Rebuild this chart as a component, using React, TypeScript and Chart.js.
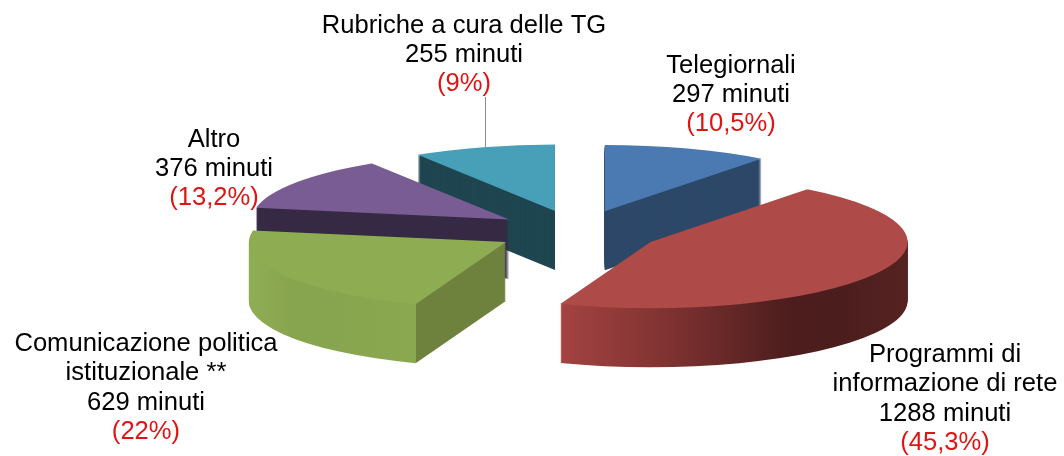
import React, { useEffect, useRef } from "react";
import { Chart, registerables } from "chart.js";

Chart.register(...registerables);

const categories = ["Telegiornali", "Programmi di informazione di rete", "Comunicazione politica istituzionale **", "Altro", "Rubriche a cura delle TG"];
const categoryLines = [["Telegiornali"], ["Programmi di", "informazione di rete"], ["Comunicazione politica", "istituzionale **"], ["Altro"], ["Rubriche a cura delle TG"]];
const minutes = [297, 1288, 629, 376, 255];
const percentLabels = ["(10,5%)", "(45,3%)", "(22%)", "(13,2%)", "(9%)"];
const topColors = ["#4a7ab1", "#ae4a47", "#8eac52", "#795c93", "#489fb8"];
const cutColors = ["#2d4868", "#a34341", "#6e823e", "#362a44", "#1f4650"];
const drawOrder = [0, 4, 3, 2, 1];
const labelCenterX = [731, 945, 146, 214, 464];
const labelFirstBaseline = [72.5, 362, 351, 146.5, 32.5];

const CX = 578, CY = 231.5, TILT = 0.258, DEPTH = 59, EXPLODE = 83, RADIUS = 257, LINE = 29.4;

const pie3d = {
  id: "pie3d",
  beforeDatasetsDraw(chart: any) {
    const ctx = chart.ctx;
    const arcs = chart.getDatasetMeta(0).data;
    const ox = (chart.chartArea.left + chart.chartArea.right) / 2;
    const oy = (chart.chartArea.top + chart.chartArea.bottom) / 2;
    for (const i of drawOrder) {
      const arc = arcs[i];
      const mid = (arc.startAngle + arc.endAngle) / 2;
      const ex = Math.cos(mid) * EXPLODE;
      const ey = Math.sin(mid) * EXPLODE;
      const toUser = (sx: number) => sx - CX + ox - ex;
      let side: any = cutColors[i];
      if (i === 1) {
        const g = ctx.createLinearGradient(toUser(560), 0, toUser(907), 0);
        g.addColorStop(0, "#a34341");
        g.addColorStop(0.3, "#803332");
        g.addColorStop(0.66, "#4d1d1d");
        g.addColorStop(0.8, "#4c1d1d");
        g.addColorStop(1, "#562222");
        side = g;
      } else if (i === 2) {
        const g = ctx.createLinearGradient(toUser(249), 0, toUser(506), 0);
        const cut = (416 - 249) / (506 - 249);
        g.addColorStop(0, "#8fad53");
        g.addColorStop(0.2, "#87a44e");
        g.addColorStop(cut - 0.001, "#8aa850");
        g.addColorStop(cut, "#6e823e");
        g.addColorStop(1, "#6e823e");
        side = g;
      }
      const original = arc.options;
      const paint = (fill: any, drop: number) => {
        const o = Object.create(original);
        o.backgroundColor = fill;
        arc.options = o;
        ctx.save();
        ctx.translate(CX, CY + drop);
        ctx.scale(1, TILT);
        ctx.translate(-ox, -oy);
        ctx.translate(ex, ey);
        arc.draw(ctx);
        ctx.restore();
      };
      for (let k = DEPTH; k >= 1; k--) paint(side, k);
      paint(topColors[i], 0);
      arc.options = original;
    }
    return false;
  },
  afterDraw(chart: any) {
    const ctx = chart.ctx;
    ctx.save();
    ctx.strokeStyle = "#8c8c8c";
    ctx.lineWidth = 1;
    ctx.beginPath();
    ctx.moveTo(485.5, 97);
    ctx.lineTo(485.5, 147);
    ctx.stroke();
    ctx.font = '25.6px "Liberation Sans"';
    ctx.textAlign = "center";
    ctx.textBaseline = "alphabetic";
    categoryLines.forEach((lines, i) => {
      const all = [...lines, `${minutes[i]} minuti`];
      ctx.fillStyle = "#000000";
      all.forEach((t, n) => ctx.fillText(t, labelCenterX[i], labelFirstBaseline[i] + n * LINE));
      ctx.fillStyle = "#e01414";
      ctx.fillText(percentLabels[i], labelCenterX[i], labelFirstBaseline[i] + all.length * LINE);
    });
    ctx.restore();
  },
};

export default function App() {
  const ref = useRef<HTMLCanvasElement>(null);
  useEffect(() => {
    const chart = new Chart(ref.current!, {
      type: "pie",
      data: {
        labels: categories,
        datasets: [{ data: minutes, backgroundColor: topColors, borderWidth: 0, hoverOffset: 0 }],
      },
      options: {
        animation: false,
        responsive: false,
        radius: RADIUS,
        rotation: 0,
        events: [],
        plugins: { legend: { display: false }, tooltip: { enabled: false } },
      } as any,
      plugins: [pie3d],
    });
    return () => chart.destroy();
  }, []);
  return <canvas ref={ref} width={1064} height={456} style={{ position: "absolute", left: 0, top: 0 }} />;
}
